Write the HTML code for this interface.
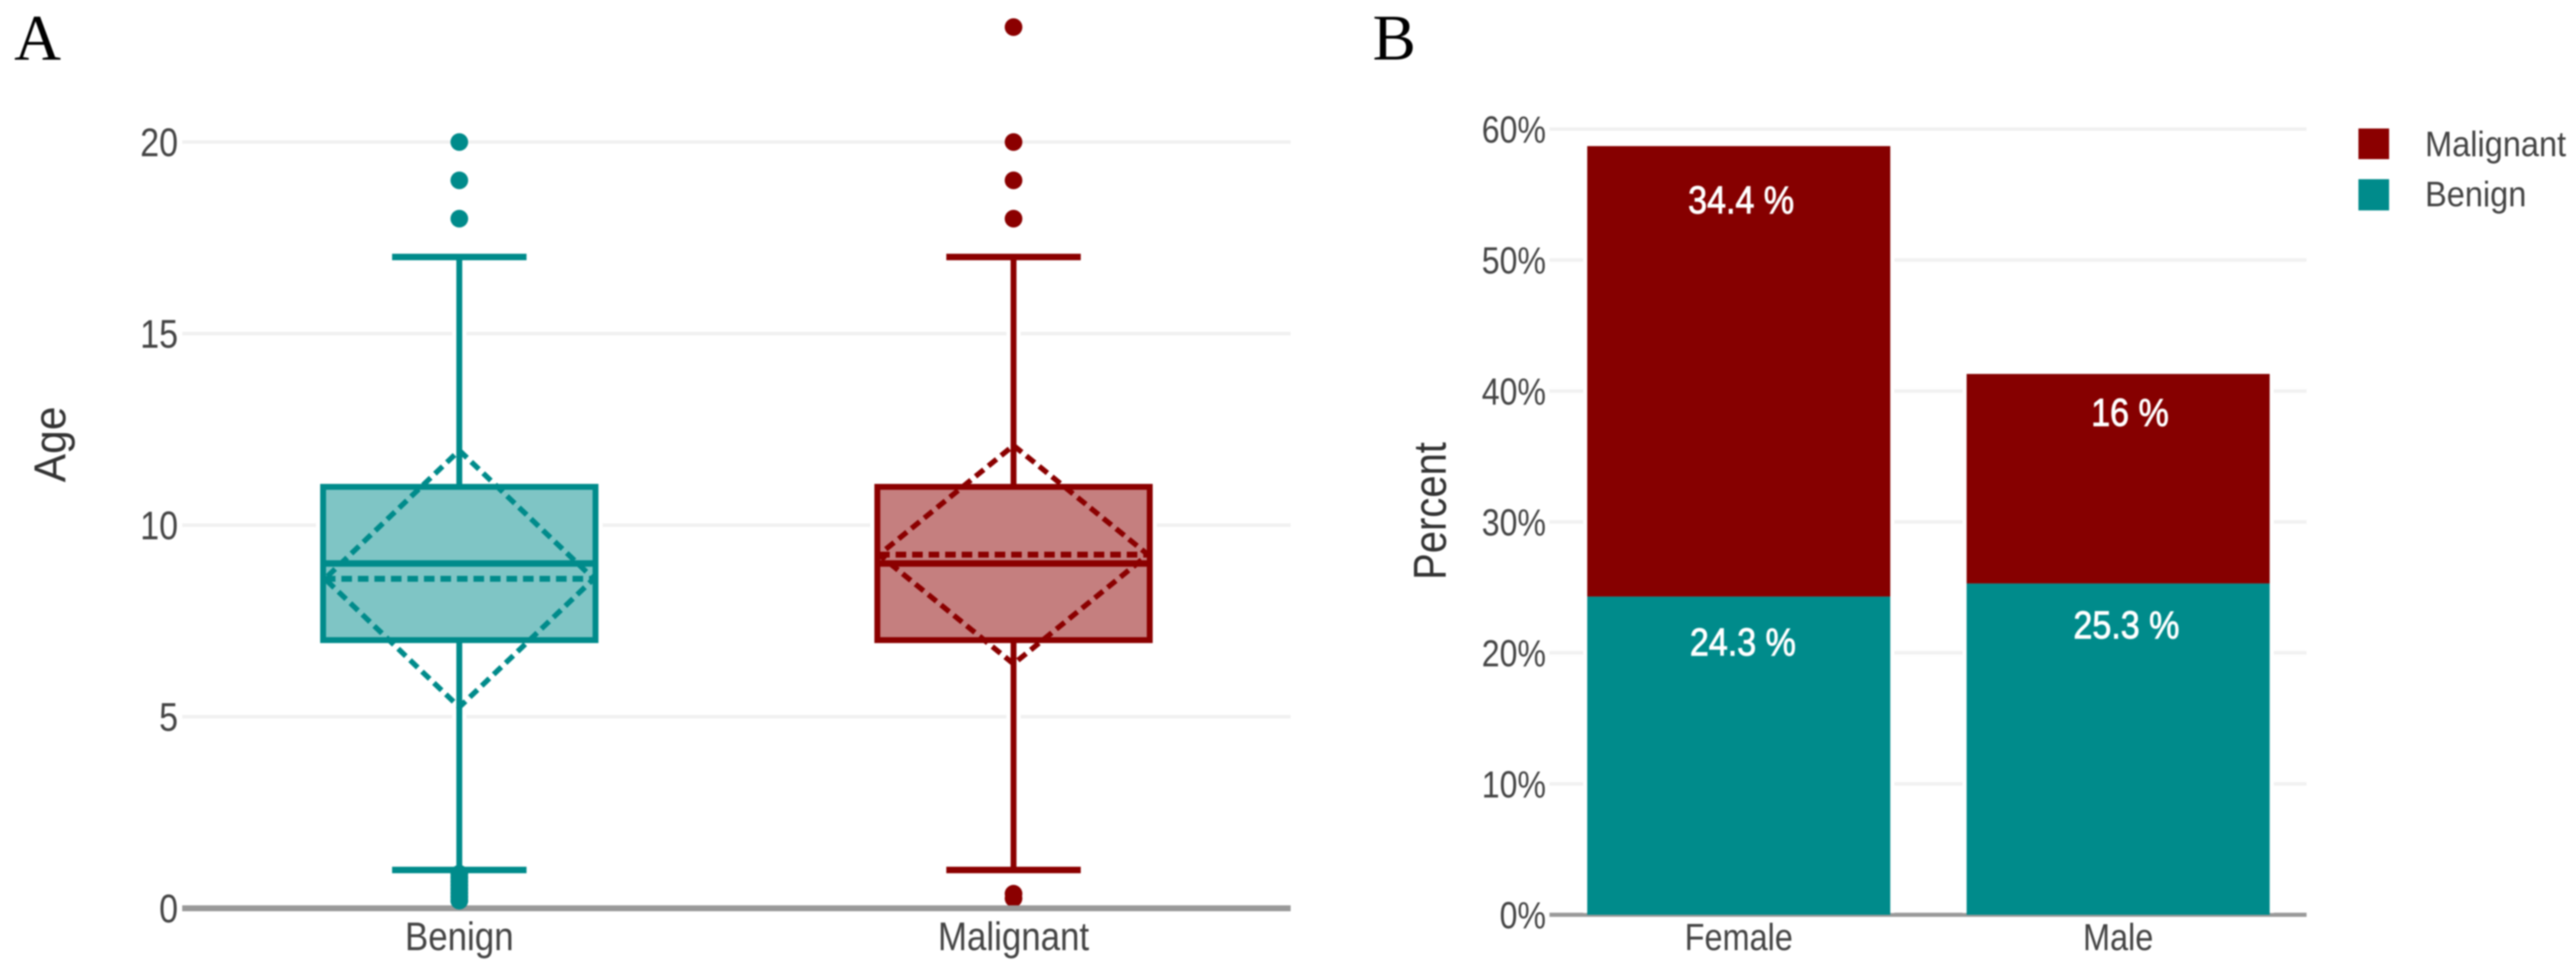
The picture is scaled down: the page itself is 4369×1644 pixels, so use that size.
<!DOCTYPE html>
<html lang="en">
<head>
<meta charset="utf-8">
<title>Age box plot and sex distribution by tumour type</title>
<style>
  html, body { margin: 0; padding: 0; background: #fff; width: 4369px; height: 1644px; overflow: hidden; }
  svg { display: block; filter: blur(1.2px); }
  text { font-family: "Liberation Sans", sans-serif; }
  .panel-letter { font-family: "Liberation Serif", serif; font-size: 110px; fill: #000; }
</style>
</head>
<body>
<svg id="fig" width="4369" height="1644" viewBox="0 0 4369 1644" xmlns="http://www.w3.org/2000/svg">
  <text class="panel-letter" x="24" y="101">A</text>
  <text class="panel-letter" x="2328" y="101">B</text>

  <g id="panelA"></g>
  <text transform="translate(111,754) rotate(-90) scale(.95,1)" text-anchor="middle" font-size="76" fill="#333">Age</text>

  <g id="panelB"></g>
  <text transform="translate(2452,867) rotate(-90) scale(.87,1)" text-anchor="middle" font-size="78" fill="#333">Percent</text>

  <g>
    <g>
      <rect x="4000" y="218" width="52" height="52" fill="#8b0000"></rect>
      <text transform="translate(4113,265) scale(.92,1)" font-size="60" fill="#444">Malignant</text>
    </g>
    <g>
      <rect x="4000" y="304" width="52" height="53" fill="#008b8b"></rect>
      <text transform="translate(4113,350) scale(.92,1)" font-size="60" fill="#444">Benign</text>
    </g>
  </g>
</svg>

<script>
// Panel A data: age distribution by group
const boxCategories = ['Benign', 'Malignant'];
const boxColors = ['#008b8b', '#8b0000'];
const boxQ1 = [7, 7];
const boxMedian = [9, 9];
const boxQ3 = [11, 11];
const whiskerLow = [1, 1];
const whiskerHigh = [17, 17];
const boxMean = [8.6, 9.23];
const boxSd = [3.35, 2.85];
const benignOutliers = [0.2, 0.3, 0.4, 0.5, 0.6, 0.7, 0.8, 0.9, 18, 19, 20];
const malignantOutliers = [0.26, 0.38, 18, 19, 20, 23];
const ageTicks = [0, 5, 10, 15, 20];

// Panel B data: percent by sex and diagnosis
const barCategories = ['Female', 'Male'];
const benignPercent = [24.3, 25.3];
const malignantPercent = [34.4, 16];
const percentTicks = [0, 10, 20, 30, 40, 50, 60];

const NS = 'http://www.w3.org/2000/svg';
function mk(parent, tag, attrs, txt) {
  const el = document.createElementNS(NS, tag);
  for (const k in attrs) el.setAttribute(k, attrs[k]);
  if (txt !== undefined) el.textContent = txt;
  parent.appendChild(el);
  return el;
}

/* ---------- Panel A ---------- */
const gA = document.getElementById('panelA');
const aLeft = 309, aRight = 2189, aZero = 1541, aUnit = 65;
const yA = v => aZero - v * aUnit;
const xA = i => aLeft + (i + 0.5) * (aRight - aLeft) / boxCategories.length;
const boxHalf = 231, capHalf = 114, diamondHalf = 228, dotR = 15;

ageTicks.forEach(t => {
  if (t !== 0) {
    const grid = mk(gA, 'line', { x1: aLeft, x2: aRight, y1: yA(t), y2: yA(t), stroke: '#f1f1f1', 'stroke-width': 6 });
    
    
  }
  const lab = mk(gA, 'text', { transform: `translate(302,${yA(t) + 24}) scale(.85,1)`, 'text-anchor': 'end', 'font-size': 68, fill: '#444' }, String(t));
  
  
});

boxCategories.forEach((cat, i) => {
  const c = xA(i), col = boxColors[i];
  const g = mk(gA, 'g', {});
  
  

  const halo = mk(g, 'rect', { x: c - boxHalf - 12, y: yA(boxQ3[i]) - 4, width: 2 * boxHalf + 24, height: yA(boxQ1[i]) - yA(boxQ3[i]) + 8, fill: '#fff' });
  
  

  const whiskHalo = mk(g, 'line', { x1: c, x2: c, y1: yA(whiskerHigh[i]), y2: yA(whiskerLow[i]), stroke: '#fff', 'stroke-width': 24 });
  
  

  const whiskUp = mk(g, 'line', { x1: c, x2: c, y1: yA(whiskerHigh[i]), y2: yA(boxQ3[i]), stroke: col, 'stroke-width': 10 });
  
  

  const whiskDown = mk(g, 'line', { x1: c, x2: c, y1: yA(boxQ1[i]), y2: yA(whiskerLow[i]), stroke: col, 'stroke-width': 10 });
  
  

  const capUp = mk(g, 'line', { x1: c - capHalf, x2: c + capHalf, y1: yA(whiskerHigh[i]), y2: yA(whiskerHigh[i]), stroke: col, 'stroke-width': 11 });
  
  

  const capDown = mk(g, 'line', { x1: c - capHalf, x2: c + capHalf, y1: yA(whiskerLow[i]), y2: yA(whiskerLow[i]), stroke: col, 'stroke-width': 11 });
  
  

  const box = mk(g, 'rect', { x: c - boxHalf, y: yA(boxQ3[i]), width: 2 * boxHalf, height: yA(boxQ1[i]) - yA(boxQ3[i]), fill: col, 'fill-opacity': 0.5, stroke: col, 'stroke-width': 10 });
  
  

  const med = mk(g, 'line', { x1: c - boxHalf, x2: c + boxHalf, y1: yA(boxMedian[i]), y2: yA(boxMedian[i]), stroke: col, 'stroke-width': 11 });
  
  

  const mean = mk(g, 'line', { x1: c - diamondHalf, x2: c + diamondHalf, y1: yA(boxMean[i]), y2: yA(boxMean[i]), stroke: col, 'stroke-width': 10, 'stroke-dasharray': '18 10' });
  
  

  const pts = [
    [c, yA(boxMean[i] + boxSd[i])],
    [c + diamondHalf, yA(boxMean[i])],
    [c, yA(boxMean[i] - boxSd[i])],
    [c - diamondHalf, yA(boxMean[i])]
  ].map(p => p.join(',')).join(' ');
  const dia = mk(g, 'polygon', { points: pts, fill: 'none', stroke: col, 'stroke-width': 9, 'stroke-dasharray': '18 10' });
  
  

  const outliers = i === 0 ? benignOutliers : malignantOutliers;
  outliers.forEach(v => {
    const dot = mk(g, 'circle', { cx: c, cy: yA(v), r: dotR, fill: col });
    
    
  });

  const xl = mk(gA, 'text', { transform: `translate(${c},1612) scale(.87,1)`, 'text-anchor': 'middle', 'font-size': 68, fill: '#444' }, cat);
  
  
});

const axisA = mk(gA, 'line', { x1: aLeft, x2: aRight, y1: aZero, y2: aZero, stroke: '#999', 'stroke-width': 10 });


// the benign low outliers sit on top of the axis line
benignOutliers.filter(v => v < 1).forEach(v => {
  const dot = mk(gA, 'circle', { cx: xA(0), cy: yA(v), r: dotR, fill: boxColors[0] });
  
  
});

/* ---------- Panel B ---------- */
const gB = document.getElementById('panelB');
const bLeft = 2628, bRight = 3912, bZero = 1552, bUnit = 22.217, barW = 514;
const yB = v => bZero - v * bUnit;
const xB = i => bLeft + (i + 0.5) * (bRight - bLeft) / barCategories.length + (i === 1 ? 1.5 : 0);

percentTicks.forEach(t => {
  if (t !== 0) {
    const grid = mk(gB, 'line', { x1: bLeft, x2: bRight, y1: yB(t), y2: yB(t), stroke: '#f1f1f1', 'stroke-width': 6 });
    
    
  }
  const lab = mk(gB, 'text', { transform: `translate(2622,${yB(t) + 23}) scale(.85,1)`, 'text-anchor': 'end', 'font-size': 64, fill: '#444' }, t + '%');
  
  
});

const axisB = mk(gB, 'line', { x1: bLeft, x2: bRight, y1: bZero, y2: bZero, stroke: '#999', 'stroke-width': 7 });



// hand-placed label nudges from the original figure: [dx, dy from the segment top]
const femaleNudges = { malignant: [4, 114], benign: [7, 100] };
const maleNudges = { malignant: [20, 88], benign: [14, 93] };

barCategories.forEach((cat, i) => {
  const c = xB(i);
  const nudges = i === 0 ? femaleNudges : maleNudges;
  const total = benignPercent[i] + malignantPercent[i];

  const halo = mk(gB, 'rect', { x: c - barW / 2 - 7, y: yB(total) - 4, width: barW + 14, height: bZero - yB(total) + 1, fill: '#fff' });
  
  

  const benign = mk(gB, 'rect', { x: c - barW / 2, y: yB(benignPercent[i]), width: barW, height: bZero - yB(benignPercent[i]), fill: '#008b8b' });
  
  

  const malignant = mk(gB, 'rect', { x: c - barW / 2, y: yB(total), width: barW, height: yB(benignPercent[i]) - yB(total), fill: '#860000' });
  
  

  const lm = mk(gB, 'text', { transform: `translate(${c + nudges.malignant[0]},${yB(total) + nudges.malignant[1]}) scale(.875,1)`, 'text-anchor': 'middle', 'font-size': 66, fill: '#fff', stroke: '#fff', 'stroke-width': 1.5 }, malignantPercent[i] + ' %');
  
  

  const lb = mk(gB, 'text', { transform: `translate(${c + nudges.benign[0]},${yB(benignPercent[i]) + nudges.benign[1]}) scale(.875,1)`, 'text-anchor': 'middle', 'font-size': 66, fill: '#fff', stroke: '#fff', 'stroke-width': 1.5 }, benignPercent[i] + ' %');
  
  

  const xl = mk(gB, 'text', { transform: `translate(${c},1612) scale(.86,1)`, 'text-anchor': 'middle', 'font-size': 64, fill: '#444' }, cat);
  
  
});
</script>
</body>
</html>
